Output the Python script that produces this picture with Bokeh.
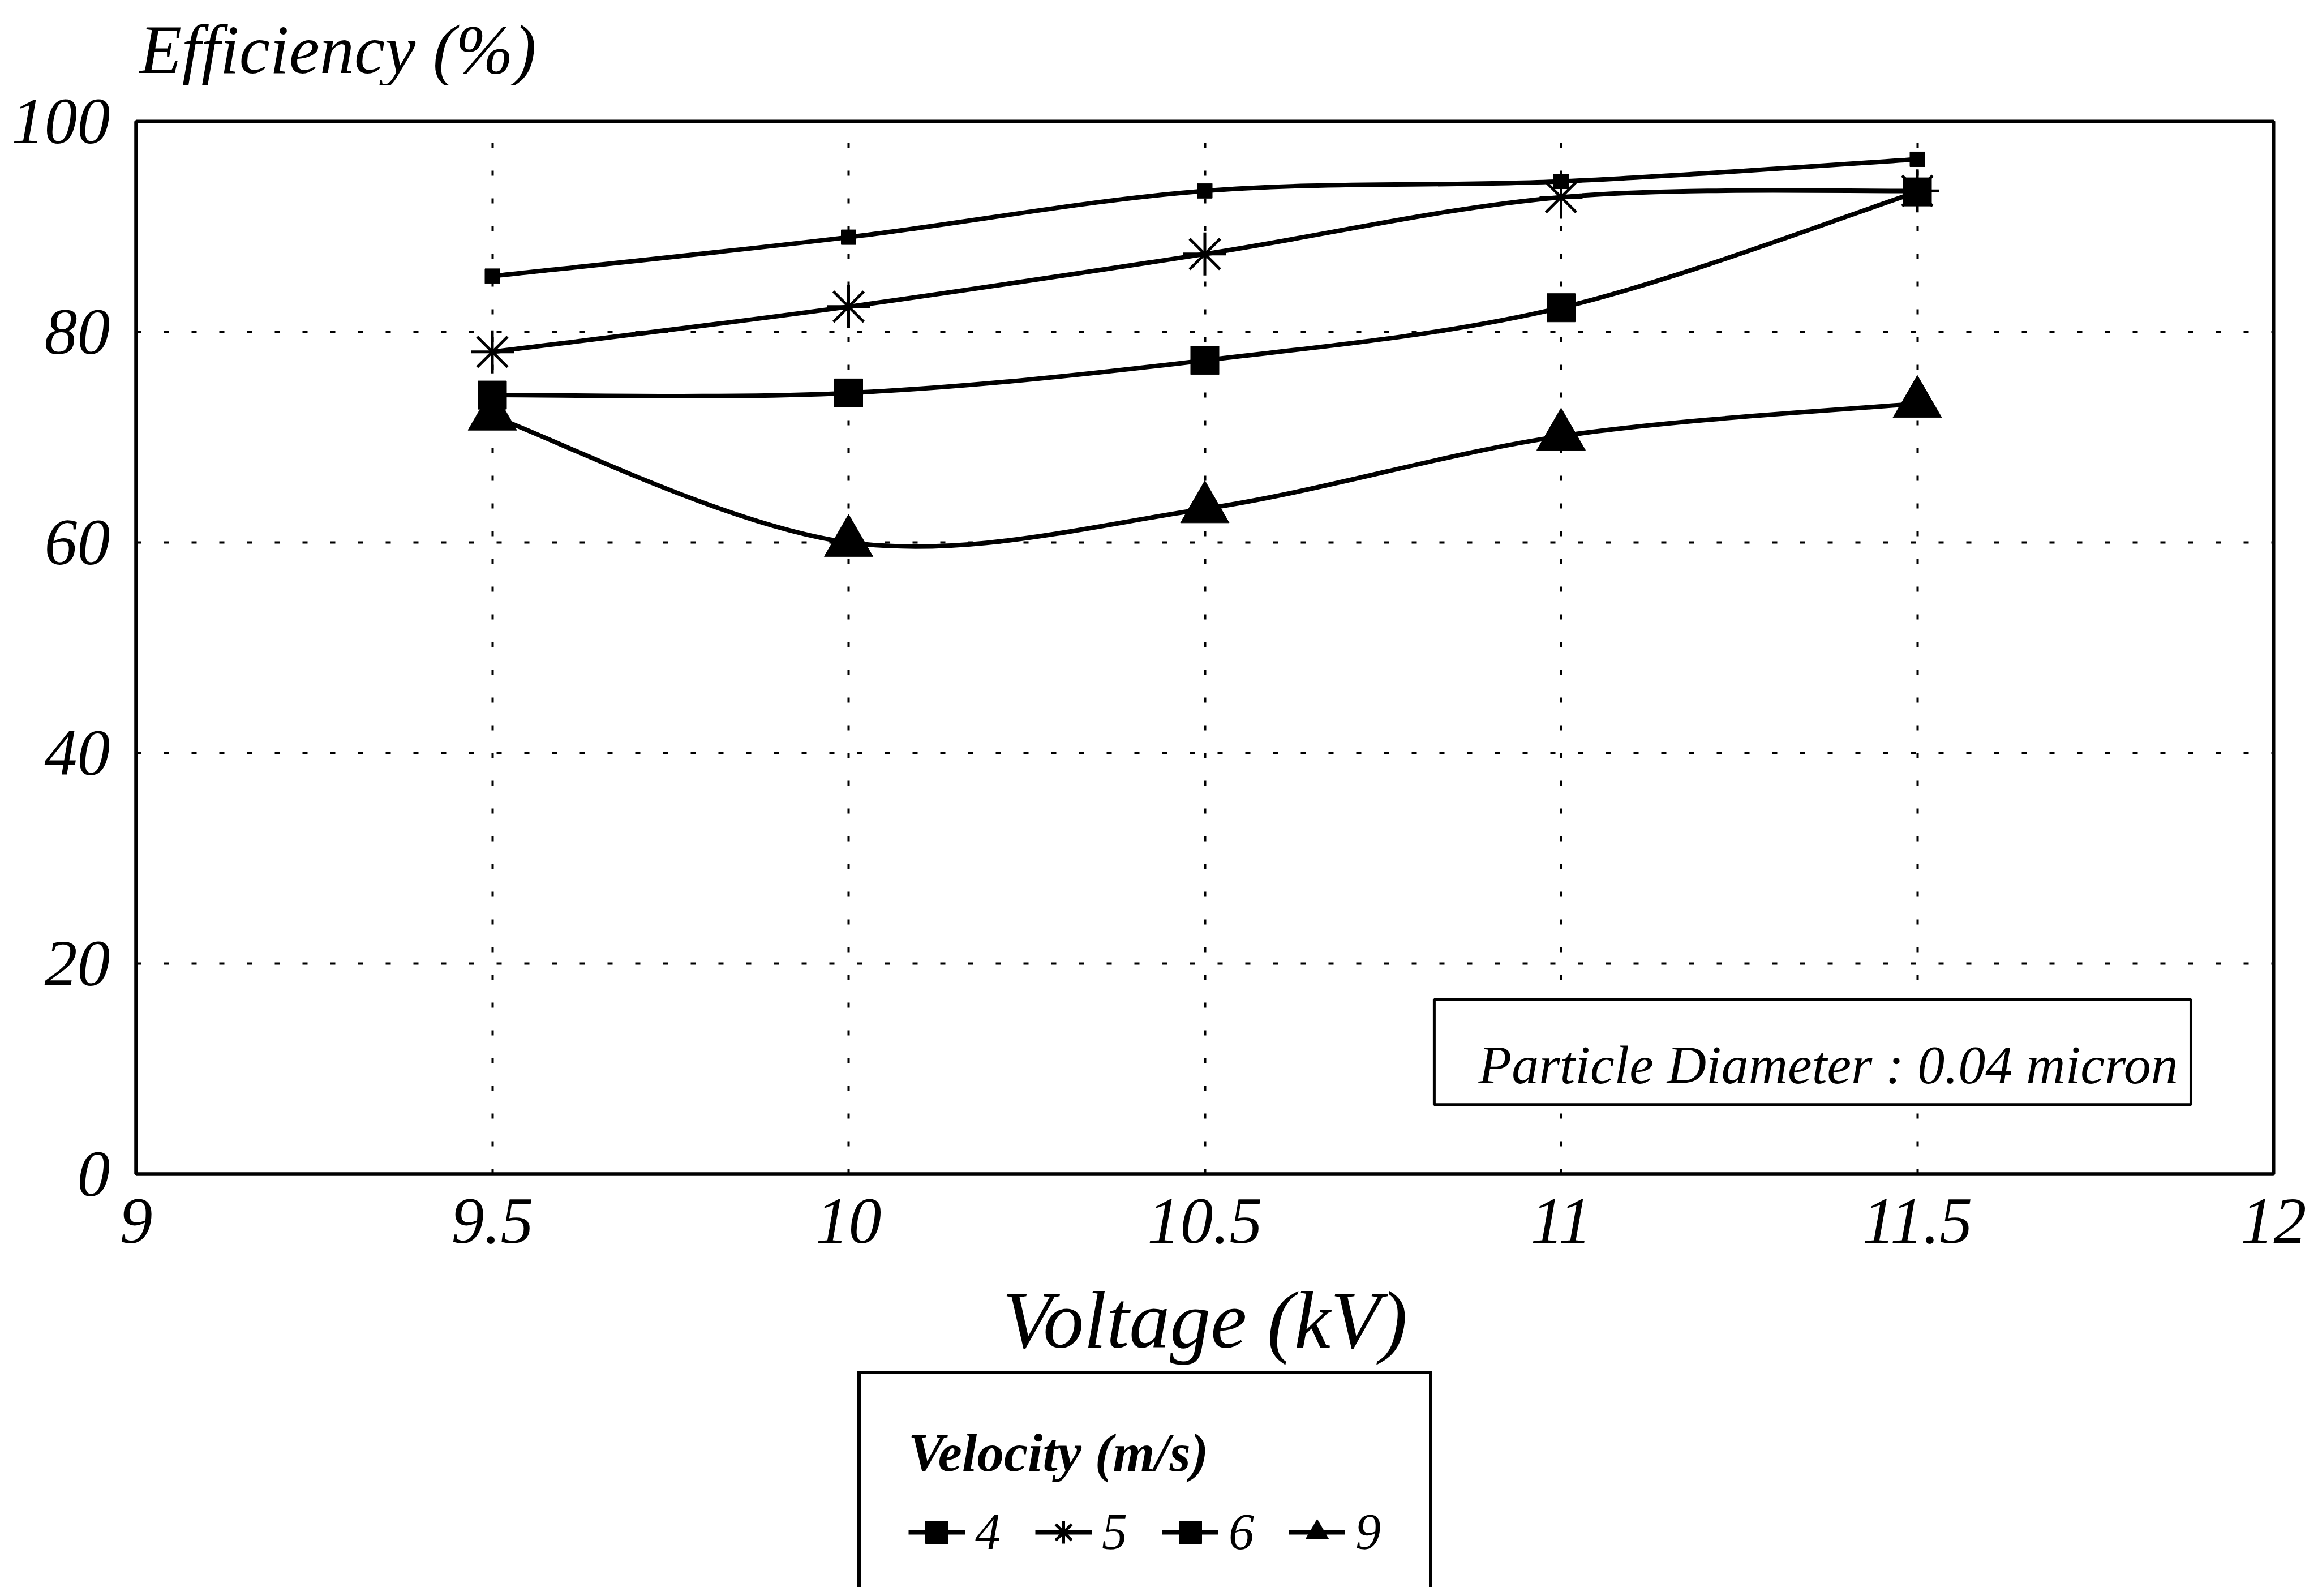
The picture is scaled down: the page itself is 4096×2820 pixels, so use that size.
from bokeh.plotting import figure
from bokeh.layouts import column
from bokeh.models import (ColumnDataSource, FixedTicker, Legend, LegendItem,
                          Label, BoxAnnotation, Range1d)
from bokeh.embed import file_html
from bokeh.resources import INLINE

# ---------------- data ----------------
voltage = [9.5, 10.0, 10.5, 11.0, 11.5]
eff_v4 = [85.3, 89.0, 93.4, 94.3, 96.4]
eff_v5 = [78.1, 82.4, 87.4, 92.8, 93.4]
eff_v6 = [74.0, 74.2, 77.3, 82.3, 93.3]
eff_v9 = [72.0, 60.0, 63.2, 70.1, 73.2]
velocity_labels = ["4", "5", "6", "9"]

x_ticks = [9, 9.5, 10, 10.5, 11, 11.5, 12]
x_tick_labels = ["9", "9.5", "10", "10.5", "11", "11.5", "12"]
y_ticks = [0, 20, 40, 60, 80, 100]
y_tick_labels = ["0", "20", "40", "60", "80", "100"]

x_title = "Voltage (kV)"
y_title = "Efficiency (%)"
legend_title = "Velocity (m/s)"
note_text = "Particle Diameter : 0.04 micron"

FONT = "Liberation Serif"
W = 4080
H_HEAD, H_MAIN, H_LEG = 150, 2270, 384
FRAME_L, FRAME_R = 240, 4017          # frame edges (px) shared by all three strips


def bare_figure(height):
    f = figure(width=W, height=height, output_backend="svg", toolbar_location=None,
               x_axis_location=None, y_axis_location=None,
               x_range=Range1d(FRAME_L, FRAME_R), y_range=Range1d(0, height),
               min_border_left=FRAME_L, min_border_right=W - FRAME_R,
               min_border_top=0, min_border_bottom=0,
               background_fill_color="white", border_fill_color="white")
    f.title.visible = False
    f.outline_line_color = None
    f.grid.visible = False
    return f


# ---------------- header: y-axis title ----------------
head = bare_figure(H_HEAD)
head.add_layout(Label(x=246, y=63, text=y_title, text_align="left",
                      text_baseline="alphabetic", text_font=FONT,
                      text_font_style="italic", text_font_size="122px",
                      text_color="black"))

# ---------------- main chart ----------------
p = figure(width=W, height=H_MAIN, output_backend="svg", toolbar_location=None,
           x_range=Range1d(9, 12), y_range=Range1d(0, 100),
           min_border_left=FRAME_L, min_border_right=W - FRAME_R,
           min_border_top=64, min_border_bottom=346,
           background_fill_color="white", border_fill_color="white")
p.title.visible = False

for ax in (p.xaxis[0], p.yaxis[0]):
    ax.axis_line_color = "black"
    ax.axis_line_width = 6
    ax.major_tick_out = 0
    ax.major_tick_in = 0
    ax.minor_tick_out = 0
    ax.minor_tick_in = 0
    ax.major_label_text_font = FONT
    ax.major_label_text_font_style = "italic"
    ax.major_label_text_font_size = "116px"
    ax.major_label_text_color = "black"

p.xaxis.ticker = FixedTicker(ticks=x_ticks)
p.xaxis.major_label_overrides = {t: l for t, l in zip(x_ticks, x_tick_labels)}
p.xaxis.major_label_standoff = 44
p.xaxis.axis_label = x_title
p.xaxis.axis_label_text_font = FONT
p.xaxis.axis_label_text_font_style = "italic"
p.xaxis.axis_label_text_font_size = "144px"
p.xaxis.axis_label_text_color = "black"
p.xaxis.axis_label_standoff = 54

p.yaxis.ticker = FixedTicker(ticks=y_ticks)
p.yaxis.major_label_overrides = {t: l for t, l in zip(y_ticks, y_tick_labels)}
p.yaxis.major_label_standoff = 46

for g in (p.xgrid[0], p.ygrid[0]):
    g.grid_line_color = "black"
    g.grid_line_width = 4
    g.grid_line_dash = "9 40"
p.xgrid.ticker = FixedTicker(ticks=x_ticks)
p.ygrid.ticker = FixedTicker(ticks=y_ticks)

p.outline_line_color = "black"
p.outline_line_width = 6
p.outline_line_alpha = 1


def smooth_segments(xs, ys):
    """Cubic Bezier control points (Catmull-Rom) between consecutive data points."""
    n = len(xs)
    d = {k: [] for k in ("x0", "y0", "x1", "y1", "cx0", "cy0", "cx1", "cy1")}
    for i in range(n - 1):
        xp, yp = (xs[i - 1], ys[i - 1]) if i > 0 else (xs[i], ys[i])
        xn, yn = (xs[i + 2], ys[i + 2]) if i + 2 < n else (xs[i + 1], ys[i + 1])
        d["x0"].append(xs[i]); d["y0"].append(ys[i])
        d["x1"].append(xs[i + 1]); d["y1"].append(ys[i + 1])
        d["cx0"].append(xs[i] + (xs[i + 1] - xp) / 6.0)
        d["cy0"].append(ys[i] + (ys[i + 1] - yp) / 6.0)
        d["cx1"].append(xs[i + 1] - (xn - xs[i]) / 6.0)
        d["cy1"].append(ys[i + 1] - (yn - ys[i]) / 6.0)
    return d


MARKERS = {
    "4": [dict(marker="square", size=26, fill_color="black", line_color="black", line_width=1)],
    "5": [dict(marker="cross", size=76, line_color="black", line_width=5),
          dict(marker="x", size=76, line_color="black", line_width=5)],
    "6": [dict(marker="square", size=50, fill_color="black", line_color="black", line_width=1)],
    "9": [dict(marker="triangle", size=86, fill_color="black", line_color="black", line_width=1)],
}
LINE = dict(line_color="black", line_width=8)
BEZ = dict(x0="x0", y0="y0", x1="x1", y1="y1", cx0="cx0", cy0="cy0", cx1="cx1", cy1="cy1")

series = [eff_v4, eff_v5, eff_v6, eff_v9]
for lab, ys in zip(velocity_labels, series):
    p.bezier(source=ColumnDataSource(smooth_segments(voltage, ys)), **BEZ, **LINE)
    pts = ColumnDataSource(dict(x=voltage, y=ys))
    for m in MARKERS[lab]:
        p.scatter("x", "y", source=pts, **m)

note_box = BoxAnnotation(left=10.822, right=11.884, bottom=6.6, top=16.57,
                         fill_color="white", fill_alpha=1.0,
                         line_color="black", line_width=5, line_alpha=1.0)
p.add_layout(note_box)
p.add_layout(Label(x=11.375, y=10.4, text=note_text, text_align="center",
                   text_baseline="alphabetic", text_font=FONT,
                   text_font_style="italic", text_font_size="96px",
                   text_color="black"))

# ---------------- legend strip ----------------
# legend swatches: same series/styles, the strip's ranges keep the data itself off-screen
leg = bare_figure(H_LEG)
items = []
for lab, ys in zip(velocity_labels, series):
    rends = [leg.bezier(source=ColumnDataSource(smooth_segments(voltage, ys)), **BEZ, **LINE)]
    pts = ColumnDataSource(dict(x=voltage, y=ys))
    for m in MARKERS[lab]:
        rends.append(leg.scatter("x", "y", source=pts, **m))
    items.append(LegendItem(label=lab, renderers=rends))
leg.x_range = Range1d(-1, 0)
leg.y_range = Range1d(-1, 0)

legend = Legend(items=items, title=legend_title, orientation="horizontal",
                location=(1275, -44), margin=0, padding=84, spacing=60,
                glyph_width=100, glyph_height=100, label_standoff=18, label_width=46,
                title_standoff=33,
                title_text_font=FONT, title_text_font_style="bold italic",
                title_text_font_size="95px", title_text_color="black",
                label_text_font=FONT, label_text_font_style="italic",
                label_text_font_size="90px", label_text_color="black",
                border_line_color="black", border_line_width=6, border_line_alpha=1.0,
                background_fill_color="white", background_fill_alpha=1.0)
leg.add_layout(legend, "center")

layout = column(head, p, leg, spacing=0)
open("out.html", "w").write(file_html(layout, INLINE))
